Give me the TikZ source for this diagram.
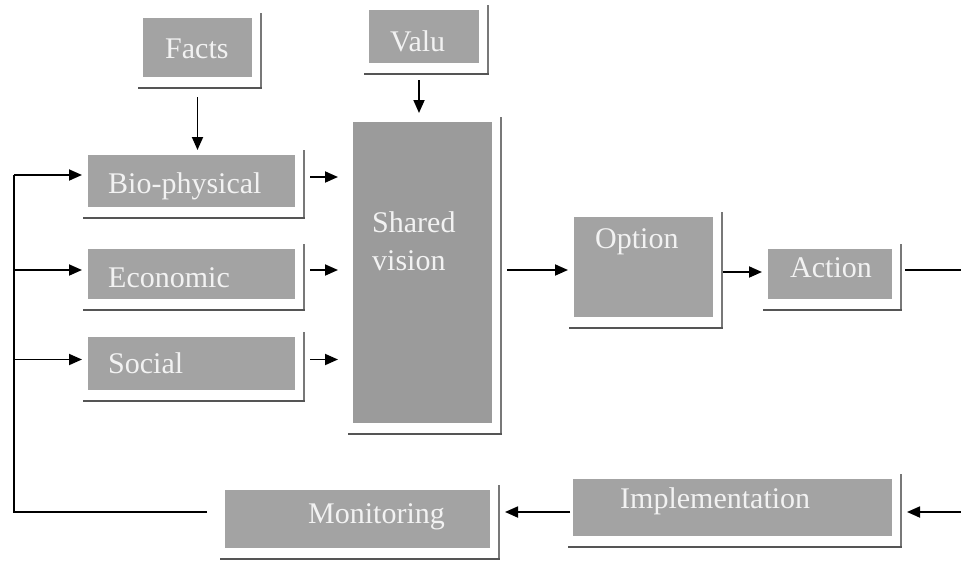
\documentclass[tikz,border=0pt]{standalone}
\usepackage{fontspec}
\setmainfont{Liberation Serif}
\usetikzlibrary{arrows.meta,calc}
\definecolor{boxgray}{RGB}{163,163,163}
\definecolor{boxgraydark}{RGB}{155,155,155}
\definecolor{txtwhite}{RGB}{242,242,242}
\definecolor{frameR}{RGB}{120,120,120}
\definecolor{frameB}{RGB}{85,85,85}
\tikzset{
  gbox/.style={fill=boxgray, draw=none, inner sep=0pt, outer sep=0pt},
  lbl/.style={text=txtwhite, font=\fontsize{30}{36}\selectfont, inner sep=0pt, anchor=base west},
  frR/.style={draw=frameR, line width=1.1pt},
  frB/.style={draw=frameB, line width=2.2pt},
  conn/.style={draw=black, line width=1.8pt},
  arr/.style={conn, -{Triangle[length=13pt,width=11pt]}},
}
\newcommand\shadowframe[1]{%
  \draw[frR] ([xshift=9pt,yshift=5pt]#1.north east) -- ([xshift=9pt,yshift=-11pt]#1.south east);
  \draw[frB] ([xshift=-5pt,yshift=-11pt]#1.south west) -- ([xshift=9.5pt,yshift=-11pt]#1.south east);}
\begin{document}
\begin{tikzpicture}[x=1pt,y=-1pt]
\useasboundingbox[fill=white] (0,0) rectangle (961,562);
% boxes
\node[gbox, minimum width=109pt, minimum height=59pt] (facts) at (197.5,47.5) {};
\node[gbox, minimum width=110pt, minimum height=53pt] (valu) at (424,36.5) {};
\node[gbox, minimum width=207pt, minimum height=52pt] (bio) at (191.5,181) {};
\node[gbox, minimum width=207pt, minimum height=50pt] (econ) at (191.5,274) {};
\node[gbox, minimum width=207pt, minimum height=53pt] (social) at (191.5,363.5) {};
\node[gbox, fill=boxgraydark, minimum width=139pt, minimum height=301pt] (shared) at (422.5,272.5) {};
\node[gbox, minimum width=139pt, minimum height=100pt] (option) at (643.5,267) {};
\node[gbox, minimum width=124pt, minimum height=50pt] (action) at (830,274) {};
\node[gbox, minimum width=265pt, minimum height=58pt] (mon) at (357.5,519) {};
\node[gbox, minimum width=319pt, minimum height=57pt] (impl) at (732.5,507.5) {};
% frames
\shadowframe{facts}
\shadowframe{valu}
\shadowframe{bio}
\shadowframe{econ}
\shadowframe{social}
\shadowframe{shared}
\shadowframe{option}
\shadowframe{action}
\shadowframe{mon}
\shadowframe{impl}
% texts
\node[lbl] (tfacts) at (165,58) {Facts};
\node[lbl] (tvalu) at (390,51) {Valu};
\node[lbl] (tbio) at (108,193) {Bio-physical};
\node[lbl] (tecon) at (108,287) {Economic};
\node[lbl] (tsocial) at (108,373) {Social};
\node[lbl] (tshared) at (372,232) {Shared};
\node[lbl] (tvision) at (372,270) {vision};
\node[lbl] (toption) at (595,248) {Option};
\node[lbl] (taction) at (790,277) {Action};
\node[lbl] (timpl) at (620,508) {Implementation};
\node[lbl] (tmon) at (308,523) {Monitoring};
% edge coordinates
\coordinate (outR) at (961,270);
\coordinate (inR) at (961,512);
\coordinate (loop) at (14,175);
% connectors
\draw[arr, shorten <=20pt, shorten >=5pt] (facts.south) -- (facts.south |- bio.north);
\draw[arr, shorten <=17pt, shorten >=9pt] ([xshift=-5pt]valu.south) -- ([xshift=-5pt]valu.south |- shared.north);
\draw[arr, shorten <=15pt, shorten >=15pt] ([yshift=4pt]bio.east) -- ([yshift=4pt]bio.east -| shared.west);
\draw[arr, shorten <=15pt, shorten >=15pt] ([yshift=4pt]econ.east) -- ([yshift=4pt]econ.east -| shared.west);
\draw[arr, shorten <=15pt, shorten >=15pt] ([yshift=4pt]social.east) -- ([yshift=4pt]social.east -| shared.west);
\draw[arr, shorten <=15pt, shorten >=6pt] ([yshift=-3pt]shared.east |- option.west) -- ([yshift=-3pt]option.west);
\draw[arr, shorten <=10pt, shorten >=6pt] ([yshift=2pt]option.east |- action.west) -- ([yshift=2pt]action.west);
\draw[conn, shorten <=13pt] ([yshift=4pt]action.east) -- (outR);
\draw[arr, shorten >=15pt] (inR) -- (inR -| impl.east);
\draw[arr, shorten <=3pt, shorten >=15pt] (inR -| impl.west) -- (inR -| mon.east);
\draw[conn, shorten <=18pt] (inR -| mon.west) -| (loop);
\draw[arr, shorten >=6pt] (loop) -- (loop -| bio.west);
\draw[arr, shorten >=6pt] ([yshift=4pt]econ.west -| loop) -- ([yshift=4pt]econ.west);
\draw[arr, shorten >=6pt] ([yshift=4pt]social.west -| loop) -- ([yshift=4pt]social.west);
\end{tikzpicture}
\end{document}
